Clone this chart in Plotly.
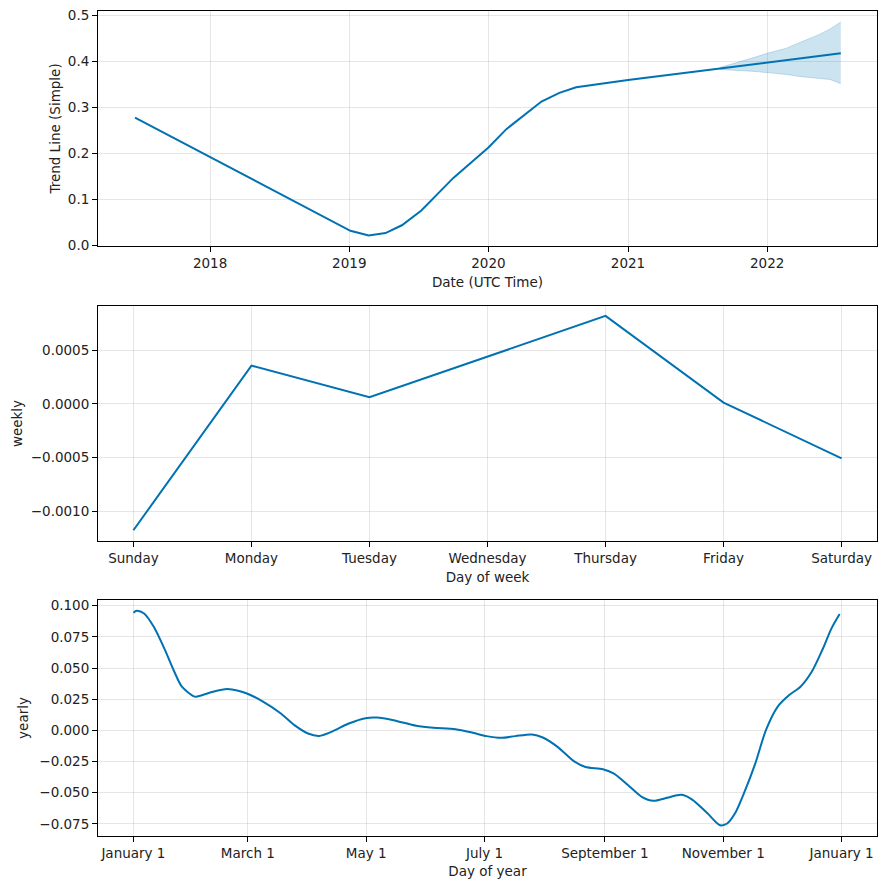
import plotly.graph_objects as go
from plotly.subplots import make_subplots

# ---- Trend data ----
trend_dates = ["2017-06-18", "2019-01-04", "2019-02-21", "2019-04-06", "2019-05-19",
               "2019-07-09", "2019-10-01", "2020-01-01", "2020-02-17", "2020-05-19",
               "2020-07-05", "2020-08-18", "2021-01-01", "2021-08-29", "2022-01-01",
               "2022-07-13"]
trend_vals = [0.277, 0.031, 0.021, 0.026, 0.043,
              0.075, 0.146, 0.212, 0.252, 0.312,
              0.331, 0.343, 0.359, 0.384, 0.396,
              0.417]
band_dates = ["2021-08-29", "2021-10-15", "2021-11-20", "2022-01-01", "2022-02-20",
              "2022-04-01", "2022-05-15", "2022-06-15", "2022-07-13"]
band_upper = [0.386, 0.397, 0.406, 0.417, 0.428, 0.442, 0.457, 0.470, 0.485]
band_lower = [0.382, 0.380, 0.378, 0.375, 0.371, 0.366, 0.362, 0.360, 0.351]
trend_tickvals = ["2018-01-01", "2019-01-01", "2020-01-01", "2021-01-01", "2022-01-01"]
trend_ticktext = ["2018", "2019", "2020", "2021", "2022"]

# ---- Weekly data ----
week_days = ["Sunday", "Monday", "Tuesday", "Wednesday", "Thursday", "Friday", "Saturday"]
weekly_vals = [-0.001176, 0.000357, 0.0000624, 0.000443, 0.00082, 0.0000124, -0.000506]

# ---- Yearly data ----
year_days = [0, 1.7, 5.5, 10.5, 16.3, 20.7, 25, 30.9, 32.3, 41, 48.3, 54, 58.5, 67, 76, 83,
             90, 95.8, 102, 111, 119.6, 125.5, 134, 145.8, 154.6, 166, 175, 182, 189.5,
             196.8, 205.5, 211, 218.6, 227, 233, 242, 247.7, 255, 262, 268, 275, 282.6,
             288, 296, 302.4, 306, 310, 314.6, 320.5, 326, 332, 338, 343.8, 349.6, 355.4,
             359.8, 364]
yearly_vals = [0.0944, 0.096, 0.0938, 0.0831, 0.0644, 0.0484, 0.035, 0.0275, 0.027, 0.031,
               0.0331, 0.0318, 0.0296, 0.0229, 0.0136, 0.0042, -0.0025, -0.0044, -0.0012,
               0.0055, 0.0098, 0.0103, 0.0082, 0.0037, 0.0021, 0.001, -0.0019, -0.0046,
               -0.006, -0.0046, -0.0033, -0.0057, -0.0132, -0.0247, -0.0293, -0.0311,
               -0.0346, -0.044, -0.0533, -0.0565, -0.0541, -0.0517, -0.0555, -0.0667,
               -0.0761, -0.0747, -0.0667, -0.0507, -0.0266, 0.0002, 0.0189, 0.0283, 0.035,
               0.047, 0.0657, 0.0818, 0.0933]
year_tickvals = [0, 59, 120, 181, 243, 304, 365]
year_ticktext = ["January 1", "March 1", "May 1", "July 1", "September 1", "November 1", "January 1"]

LINE = "#0072B2"
FONT = "DejaVu Sans"
FS = 13.5
GRID = "rgba(128,128,128,0.2)"

fig = make_subplots(rows=3, cols=1)

fig.add_trace(go.Scatter(x=band_dates, y=band_lower, mode="lines",
                         line=dict(color="rgba(0,114,178,0.2)", width=1),
                         showlegend=False, hoverinfo="skip"), row=1, col=1)
fig.add_trace(go.Scatter(x=band_dates, y=band_upper, mode="lines", fill="tonexty",
                         fillcolor="rgba(0,114,178,0.2)",
                         line=dict(color="rgba(0,114,178,0.2)", width=1),
                         showlegend=False, hoverinfo="skip"), row=1, col=1)
fig.add_trace(go.Scatter(x=trend_dates, y=trend_vals, mode="lines",
                         line=dict(color=LINE, width=2), showlegend=False), row=1, col=1)

fig.add_trace(go.Scatter(x=list(range(len(week_days))), y=weekly_vals, mode="lines",
                         line=dict(color=LINE, width=2), showlegend=False), row=2, col=1)

fig.add_trace(go.Scatter(x=year_days, y=yearly_vals, mode="lines",
                         line=dict(color=LINE, width=2, shape="spline", smoothing=0.8),
                         showlegend=False), row=3, col=1)

axis_common = dict(showline=True, linecolor="black", linewidth=1, mirror=True,
                   ticks="outside", ticklen=5, tickwidth=1, tickcolor="black",
                   showgrid=True, gridcolor=GRID, gridwidth=1, zeroline=False,
                   automargin=False, ticklabeloverflow="allow",
                   tickfont=dict(family=FONT, size=FS, color="#222222"))

# page body has an 8px margin, so the figure is reduced by that amount
fig.update_layout(
    width=878, height=881,
    margin=dict(l=90, r=9, t=3, b=53),
    plot_bgcolor="white", paper_bgcolor="white",
    font=dict(family=FONT, size=FS, color="#222222"),
)

fig.update_xaxes(**axis_common)
fig.update_yaxes(**axis_common)

fig.update_layout(
    xaxis=dict(domain=[0, 1], type="date", range=["2017-03-13", "2022-10-16"],
               tickvals=trend_tickvals, ticktext=trend_ticktext,
               title=dict(text="Date (UTC Time)", standoff=7, font=dict(size=FS))),
    yaxis=dict(domain=[0.7152, 1.0], range=[-0.002, 0.509], tickformat=".1f",
               dtick=0.1, title=dict(text="Trend Line (Simple)", standoff=4, font=dict(size=FS))),
    xaxis2=dict(range=[-0.3, 6.3], tickvals=list(range(len(week_days))), ticktext=week_days,
                title=dict(text="Day of week", standoff=7, font=dict(size=FS))),
    yaxis2=dict(domain=[0.3576, 0.6424], range=[-0.001276, 0.000912], tickformat=".4f",
                dtick=0.0005, title=dict(text="weekly", standoff=5, font=dict(size=FS))),
    xaxis3=dict(range=[-18.25, 383.25], tickvals=year_tickvals, ticktext=year_ticktext,
                title=dict(text="Day of year", standoff=6, font=dict(size=FS))),
    yaxis3=dict(domain=[0, 0.2861], range=[-0.0847, 0.1046], tickformat=".3f",
                dtick=0.025, title=dict(text="yearly", standoff=7, font=dict(size=FS))),
)

fig.write_html("out.html")
